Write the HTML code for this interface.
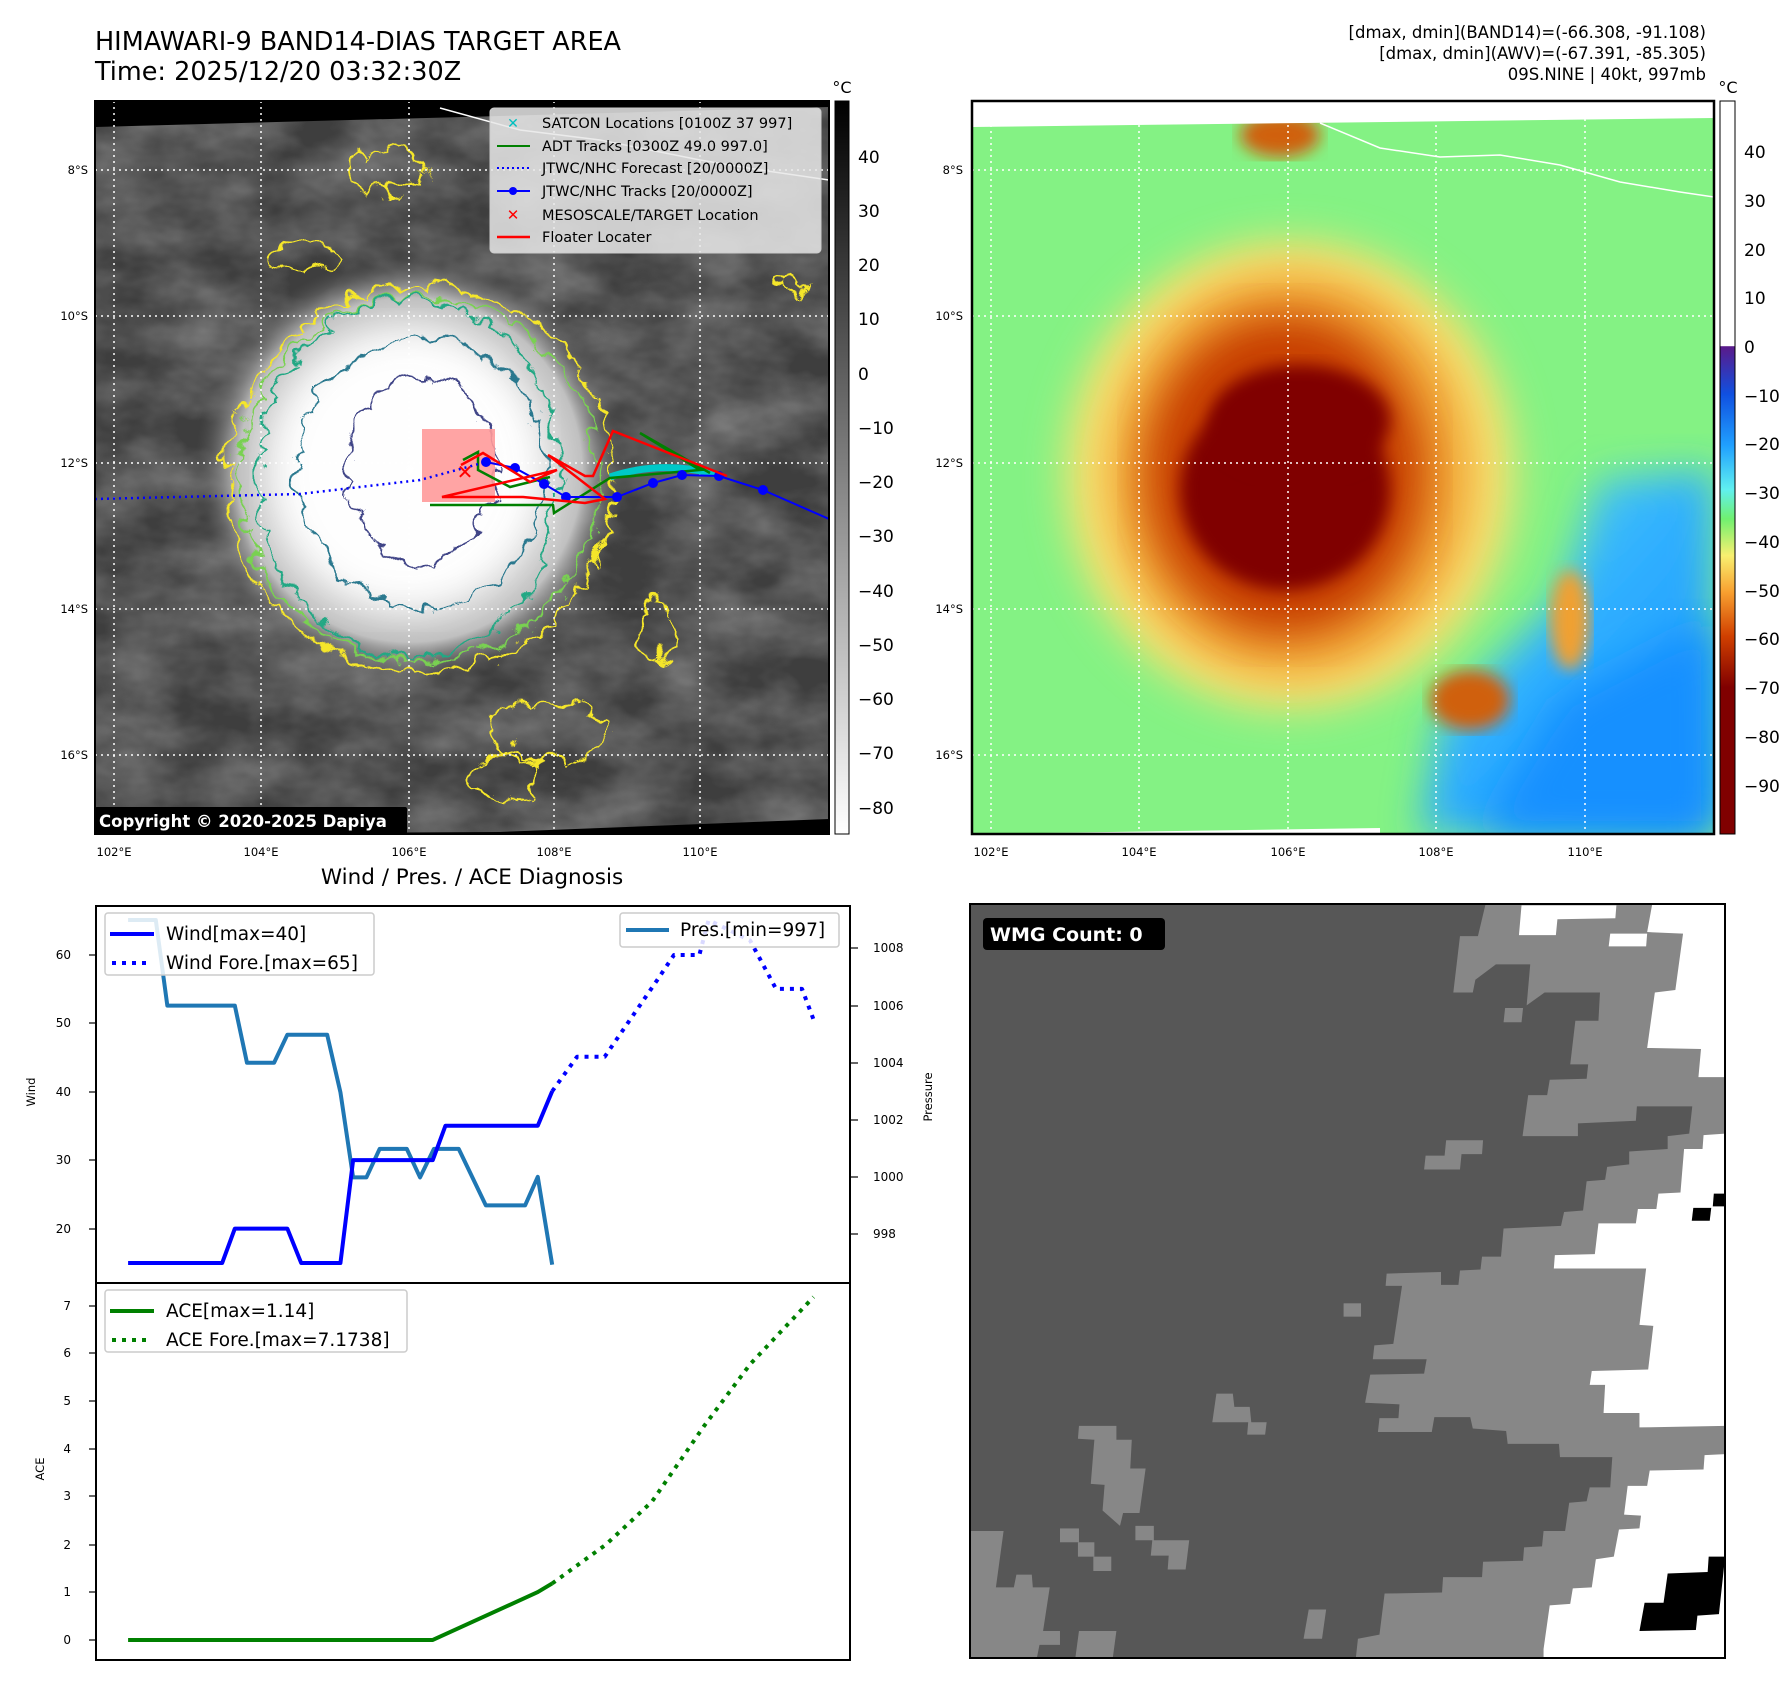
<!DOCTYPE html>
<html><head><meta charset="utf-8"><style>
html,body{margin:0;padding:0;background:#fff;}
svg{display:block;font-family:"DejaVu Sans","Liberation Sans",sans-serif;}
</style></head><body>
<svg width="1788" height="1690" viewBox="0 0 1788 1690" xmlns="http://www.w3.org/2000/svg">
<defs>
<filter id="noise" x="0" y="0" width="100%" height="100%">
<feTurbulence type="fractalNoise" baseFrequency="0.012 0.02" numOctaves="4" seed="3"/>
<feColorMatrix type="matrix" values="0 0 0 0 0.3  0 0 0 0 0.3  0 0 0 0 0.3  1.1 0 0 0 -0.3"/>
</filter>
<filter id="wob" x="-20%" y="-20%" width="140%" height="140%">
<feTurbulence type="turbulence" baseFrequency="0.03" numOctaves="2" seed="5" result="t"/>
<feDisplacementMap in="SourceGraphic" in2="t" scale="26" xChannelSelector="R" yChannelSelector="G"/>
</filter>
<filter id="blur8"><feGaussianBlur stdDeviation="8"/></filter>
<filter id="blur20"><feGaussianBlur stdDeviation="20"/></filter>
<radialGradient id="glow" cx="0.5" cy="0.5" r="0.5">
<stop offset="0" stop-color="#fff"/><stop offset="0.5" stop-color="#f4f4f4"/><stop offset="0.8" stop-color="#c0c0c0"/><stop offset="1" stop-color="#5a5a5a" stop-opacity="0"/>
</radialGradient>
<linearGradient id="cbL" x1="0" y1="0" x2="0" y2="1"><stop offset="0" stop-color="#000"/><stop offset="1" stop-color="#fff"/></linearGradient>
<linearGradient id="cbR" x1="0" y1="0" x2="0" y2="1">
<stop offset="0" stop-color="#fff"/><stop offset="0.334" stop-color="#fff"/>
<stop offset="0.335" stop-color="#5a1a8a"/>
<stop offset="0.40" stop-color="#1050e0"/>
<stop offset="0.47" stop-color="#20a0ff"/>
<stop offset="0.53" stop-color="#60f0f0"/>
<stop offset="0.57" stop-color="#70f070"/>
<stop offset="0.62" stop-color="#f8f070"/>
<stop offset="0.67" stop-color="#f8a030"/>
<stop offset="0.73" stop-color="#d04000"/>
<stop offset="0.80" stop-color="#800000"/>
<stop offset="1" stop-color="#800000"/>
</linearGradient>
<linearGradient id="seaR" x1="0" y1="0" x2="1" y2="1"><stop offset="0" stop-color="#70f0e0"/><stop offset="0.5" stop-color="#30b0ff"/><stop offset="1" stop-color="#1890ff"/></linearGradient>
<clipPath id="clipL"><rect x="95" y="101" width="734" height="733"/></clipPath>
<clipPath id="clipR"><rect x="972" y="101" width="742" height="733"/></clipPath>
</defs>

<text x="95" y="50" font-size="25.5">HIMAWARI-9 BAND14-DIAS TARGET AREA</text>
<text x="95" y="80" font-size="25.5">Time: 2025/12/20 03:32:30Z</text>
<text x="1706" y="38" font-size="16.5" text-anchor="end">[dmax, dmin](BAND14)=(-66.308, -91.108)</text>
<text x="1706" y="59" font-size="16.5" text-anchor="end">[dmax, dmin](AWV)=(-67.391, -85.305)</text>
<text x="1706" y="80" font-size="16.5" text-anchor="end">09S.NINE | 40kt, 997mb</text>

<!-- LEFT MAP -->
<g clip-path="url(#clipL)">
<rect x="95" y="101" width="734" height="733" fill="#3e3e3e"/>
<rect x="95" y="101" width="734" height="733" filter="url(#noise)" fill="#fff"/>
<ellipse cx="410" cy="470" rx="215" ry="215" fill="url(#glow)"/>
<ellipse cx="405" cy="470" rx="130" ry="135" fill="#fff" filter="url(#blur20)" opacity="0.9"/>
<g fill="none" stroke-width="2.2" filter="url(#wob)">
<ellipse cx="414" cy="472" rx="193" ry="193" stroke="#f5e629"/>
<ellipse cx="412" cy="472" rx="180" ry="182" stroke="#79d151"/>
<ellipse cx="403" cy="471" rx="151" ry="179" stroke="#22a884"/>
<ellipse cx="415" cy="466" rx="125" ry="134" stroke="#2a788e"/>
<ellipse cx="416" cy="463" rx="75" ry="93" stroke="#414487"/>
<ellipse cx="380" cy="165" rx="40" ry="22" stroke="#f5e629"/>
<ellipse cx="300" cy="250" rx="40" ry="15" stroke="#f5e629"/>
<ellipse cx="540" cy="725" rx="60" ry="30" stroke="#f5e629"/>
<ellipse cx="500" cy="770" rx="35" ry="25" stroke="#f5e629"/>
<ellipse cx="650" cy="625" rx="18" ry="30" stroke="#f5e629"/>
<ellipse cx="785" cy="280" rx="15" ry="9" stroke="#f5e629"/>
</g>
<polygon points="95,101 829,101 829,107 95,127" fill="#000"/>
<polygon points="95,834 829,834 829,819 500,832 95,834" fill="#000"/>
<path d="M440,108 L520,130 L600,140 L700,160 L760,170 L829,180" stroke="#fff" stroke-width="1.5" fill="none"/>
<g stroke="#fff" stroke-width="1.5" stroke-dasharray="2,4">
<line x1="114" y1="101" x2="114" y2="834"/><line x1="261" y1="101" x2="261" y2="834"/><line x1="409" y1="101" x2="409" y2="834"/><line x1="554" y1="101" x2="554" y2="834"/><line x1="700" y1="101" x2="700" y2="834"/>
<line x1="95" y1="170" x2="829" y2="170"/><line x1="95" y1="316" x2="829" y2="316"/><line x1="95" y1="463" x2="829" y2="463"/><line x1="95" y1="609" x2="829" y2="609"/><line x1="95" y1="755" x2="829" y2="755"/>
</g>
<rect x="422" y="429" width="73" height="73" fill="#ff9a9a" opacity="0.9"/>
<path d="M610,477 Q660,460 715,474" stroke="#00c8c8" stroke-width="7" fill="none"/>
<path d="M430,505 L553,505 L554,513 L610,478 L700,470 L640,433 L710,473" stroke="#008000" stroke-width="2.5" fill="none"/>
<path d="M463,460 L478,452 L478,470 L510,487 L550,477" stroke="#008000" stroke-width="2.5" fill="none"/>
<path d="M95,499 L300,494 L420,480 L486,462" stroke="#0000ff" stroke-width="2.5" stroke-dasharray="2,4" fill="none"/>
<g stroke="#0000ff" stroke-width="2" fill="#0000ff">
<polyline points="486,462 515,468 544,484 566,497 617,497 653,483 682,475 719,476 763,490 829,519" fill="none"/>
<circle cx="486" cy="462" r="4"/><circle cx="515" cy="468" r="4"/><circle cx="544" cy="484" r="4"/><circle cx="566" cy="497" r="4"/><circle cx="617" cy="497" r="4"/><circle cx="653" cy="483" r="4"/><circle cx="682" cy="475" r="4"/><circle cx="719" cy="476" r="4"/><circle cx="763" cy="490" r="4"/>
</g>
<path d="M461,465 L483,453 L530,482 L557,470 L442,497 L523,497 L585,503 L605,499 L548,455 L585,476 L593,476 L613,431 L727,476" stroke="#ff0000" stroke-width="2.5" fill="none"/>
<text x="465" y="479" font-size="20" fill="#ff0000" text-anchor="middle" font-weight="bold">✕</text>
</g>
<rect x="95" y="101" width="734" height="733" fill="none" stroke="#000" stroke-width="2"/>
<rect x="95" y="807" width="312" height="27" fill="#000" rx="2"/>
<text x="99" y="827" font-size="16.5" font-weight="bold" fill="#fff">Copyright © 2020-2025 Dapiya</text>
<rect x="490" y="108" width="331" height="145" rx="4" fill="#e8e8e8" fill-opacity="0.85" stroke="#ccc"/>
<g font-size="14.5">
<text x="513" y="128" fill="#00c0c0" font-weight="bold" font-size="14" text-anchor="middle">✕</text>
<text x="542" y="128">SATCON Locations [0100Z 37 997]</text>
<line x1="497" y1="146" x2="530" y2="146" stroke="#008000" stroke-width="2"/><text x="542" y="151">ADT Tracks [0300Z 49.0 997.0]</text>
<line x1="497" y1="168" x2="530" y2="168" stroke="#0000ff" stroke-width="2" stroke-dasharray="2,3"/><text x="542" y="173">JTWC/NHC Forecast [20/0000Z]</text>
<line x1="497" y1="191" x2="530" y2="191" stroke="#0000ff" stroke-width="2"/><circle cx="513" cy="191" r="4" fill="#0000ff"/><text x="542" y="196">JTWC/NHC Tracks [20/0000Z]</text>
<text x="513" y="220" fill="#ff0000" font-weight="bold" font-size="15" text-anchor="middle">✕</text><text x="542" y="220">MESOSCALE/TARGET Location</text>
<line x1="497" y1="237" x2="530" y2="237" stroke="#ff0000" stroke-width="2.5"/><text x="542" y="242">Floater Locater</text>
</g>
<g font-size="11.5" text-anchor="end">
<text x="88" y="174">8°S</text><text x="88" y="320">10°S</text><text x="88" y="467">12°S</text><text x="88" y="613">14°S</text><text x="88" y="759">16°S</text>
</g>
<g font-size="11.5" text-anchor="middle">
<text x="114" y="856">102°E</text><text x="261" y="856">104°E</text><text x="409" y="856">106°E</text><text x="554" y="856">108°E</text><text x="700" y="856">110°E</text>
</g>
<rect x="835" y="101" width="14" height="733" fill="url(#cbL)" stroke="#000" stroke-width="1"/>
<text x="842" y="93" font-size="16" text-anchor="middle">°C</text>
<g font-size="17">
<text x="858" y="163">40</text><text x="858" y="217">30</text><text x="858" y="271">20</text><text x="858" y="325">10</text><text x="858" y="380">0</text>
<text x="858" y="434">−10</text><text x="858" y="488">−20</text><text x="858" y="542">−30</text><text x="858" y="597">−40</text><text x="858" y="651">−50</text><text x="858" y="705">−60</text><text x="858" y="759">−70</text><text x="858" y="814">−80</text>
</g>

<!-- RIGHT MAP -->
<g clip-path="url(#clipR)">
<rect x="972" y="101" width="742" height="733" fill="#84f284"/>
<polygon points="1380,834 1714,834 1714,470 1600,480 1560,600 1440,720 1420,834" fill="url(#seaR)" filter="url(#blur20)"/>
<polygon points="1480,834 1714,834 1714,620 1560,700" fill="#1890ff" filter="url(#blur20)"/>
<ellipse cx="1290" cy="475" rx="225" ry="235" fill="#f8e070" filter="url(#blur20)"/>
<ellipse cx="1290" cy="475" rx="180" ry="200" fill="#f0a030" filter="url(#blur20)"/>
<ellipse cx="1285" cy="475" rx="140" ry="160" fill="#c84000" filter="url(#blur20)"/>
<ellipse cx="1285" cy="490" rx="105" ry="100" fill="#800000" filter="url(#blur8)"/>
<ellipse cx="1300" cy="420" rx="90" ry="55" fill="#800000" filter="url(#blur8)"/>
<ellipse cx="1280" cy="135" rx="40" ry="22" fill="#d06010" filter="url(#blur8)"/>
<ellipse cx="1470" cy="700" rx="40" ry="30" fill="#d06010" filter="url(#blur8)"/>
<ellipse cx="1570" cy="620" rx="20" ry="50" fill="#f0a030" filter="url(#blur8)"/>
<polygon points="972,101 1714,101 1714,118 972,127" fill="#fff"/>
<polygon points="972,834 1380,834 1380,828 972,834" fill="#fff"/>
<path d="M1320,123 L1380,148 L1440,157 L1500,155 L1560,165 L1620,182 L1680,192 L1714,197" stroke="#fff" stroke-width="1.5" fill="none"/>
<g stroke="#fff" stroke-width="1.5" stroke-dasharray="2,4">
<line x1="991" y1="101" x2="991" y2="834"/><line x1="1139" y1="101" x2="1139" y2="834"/><line x1="1288" y1="101" x2="1288" y2="834"/><line x1="1436" y1="101" x2="1436" y2="834"/><line x1="1585" y1="101" x2="1585" y2="834"/>
<line x1="972" y1="170" x2="1714" y2="170"/><line x1="972" y1="316" x2="1714" y2="316"/><line x1="972" y1="463" x2="1714" y2="463"/><line x1="972" y1="609" x2="1714" y2="609"/><line x1="972" y1="755" x2="1714" y2="755"/>
</g>
</g>
<rect x="972" y="101" width="742" height="733" fill="none" stroke="#000" stroke-width="2.5"/>
<g font-size="11.5" text-anchor="end">
<text x="963" y="174">8°S</text><text x="963" y="320">10°S</text><text x="963" y="467">12°S</text><text x="963" y="613">14°S</text><text x="963" y="759">16°S</text>
</g>
<g font-size="11.5" text-anchor="middle">
<text x="991" y="856">102°E</text><text x="1139" y="856">104°E</text><text x="1288" y="856">106°E</text><text x="1436" y="856">108°E</text><text x="1585" y="856">110°E</text>
</g>
<rect x="1720" y="101" width="15" height="733" fill="url(#cbR)" stroke="#000" stroke-width="1"/>
<text x="1728" y="93" font-size="16" text-anchor="middle">°C</text>
<g font-size="17">
<text x="1744" y="158">40</text><text x="1744" y="207">30</text><text x="1744" y="256">20</text><text x="1744" y="304">10</text><text x="1744" y="353">0</text>
<text x="1744" y="402">−10</text><text x="1744" y="450">−20</text><text x="1744" y="499">−30</text><text x="1744" y="548">−40</text><text x="1744" y="597">−50</text><text x="1744" y="645">−60</text><text x="1744" y="694">−70</text><text x="1744" y="743">−80</text><text x="1744" y="792">−90</text>
</g>

<!-- BOTTOM LEFT CHART -->
<text x="472" y="884" font-size="21.5" text-anchor="middle">Wind / Pres. / ACE Diagnosis</text>
<g transform="translate(0,850) scale(0.577,0.5385)" fill="none" stroke-width="4" stroke-linejoin="round">
<polyline vector-effect="non-scaling-stroke" points="222,130 270,130 290,289 407,289 428,395 475,395 498,343 567,343 590,450 612,608 635,608 658,555 705,555 728,608 752,555 795,555 842,660 910,660 932,607 957,770" stroke="#1f77b4"/>
<polyline vector-effect="non-scaling-stroke" points="222,767 385,767 407,703 498,703 522,767 590,767 612,576 750,576 772,512 932,512 957,448" stroke="#0000ff"/>
<polyline vector-effect="non-scaling-stroke" points="957,448 1000,384 1048,384 1140,240 1168,195 1212,195 1228,130 1300,168 1345,258 1390,258 1410,315" stroke="#0000ff" stroke-dasharray="4,6"/>
<polyline vector-effect="non-scaling-stroke" points="222,1467 750,1467 932,1378 957,1362" stroke="#008000"/>
<polyline vector-effect="non-scaling-stroke" points="957,1362 1050,1290 1130,1210 1220,1070 1300,955 1410,830" stroke="#008000" stroke-dasharray="4,6"/>
</g>
<rect x="96" y="906" width="754" height="377" fill="none" stroke="#000" stroke-width="2"/>
<rect x="96" y="1283" width="754" height="377" fill="none" stroke="#000" stroke-width="2"/>
<g stroke="#000" stroke-width="1.2">
<line x1="89" y1="955" x2="96" y2="955"/><line x1="89" y1="1023" x2="96" y2="1023"/><line x1="89" y1="1092" x2="96" y2="1092"/><line x1="89" y1="1160" x2="96" y2="1160"/><line x1="89" y1="1229" x2="96" y2="1229"/>
<line x1="850" y1="948" x2="858" y2="948"/><line x1="850" y1="1006" x2="858" y2="1006"/><line x1="850" y1="1063" x2="858" y2="1063"/><line x1="850" y1="1120" x2="858" y2="1120"/><line x1="850" y1="1177" x2="858" y2="1177"/><line x1="850" y1="1234" x2="858" y2="1234"/>
<line x1="89" y1="1306" x2="96" y2="1306"/><line x1="89" y1="1353" x2="96" y2="1353"/><line x1="89" y1="1401" x2="96" y2="1401"/><line x1="89" y1="1449" x2="96" y2="1449"/><line x1="89" y1="1496" x2="96" y2="1496"/><line x1="89" y1="1545" x2="96" y2="1545"/><line x1="89" y1="1592" x2="96" y2="1592"/><line x1="89" y1="1640" x2="96" y2="1640"/>
</g>
<g font-size="12" text-anchor="end">
<text x="71" y="959">60</text><text x="71" y="1027">50</text><text x="71" y="1096">40</text><text x="71" y="1164">30</text><text x="71" y="1233">20</text>
<text x="71" y="1310">7</text><text x="71" y="1357">6</text><text x="71" y="1405">5</text><text x="71" y="1453">4</text><text x="71" y="1500">3</text><text x="71" y="1549">2</text><text x="71" y="1596">1</text><text x="71" y="1644">0</text>
</g>
<g font-size="12">
<text x="873" y="952">1008</text><text x="873" y="1010">1006</text><text x="873" y="1067">1004</text><text x="873" y="1124">1002</text><text x="873" y="1181">1000</text><text x="873" y="1238">998</text>
</g>
<text transform="translate(35,1092) rotate(-90)" font-size="11.5" text-anchor="middle">Wind</text>
<text transform="translate(932,1097) rotate(-90)" font-size="11.5" text-anchor="middle">Pressure</text>
<text transform="translate(44,1469) rotate(-90)" font-size="11.5" text-anchor="middle">ACE</text>
<rect x="105" y="913" width="269" height="62" rx="3" fill="#fff" fill-opacity="0.85" stroke="#ccc" stroke-width="1.5"/>
<line x1="110" y1="934" x2="154" y2="934" stroke="#0000ff" stroke-width="4"/>
<line x1="112" y1="963" x2="150" y2="963" stroke="#0000ff" stroke-width="4" stroke-dasharray="4,6"/>
<text x="166" y="940" font-size="18.5">Wind[max=40]</text><text x="166" y="969" font-size="18.5">Wind Fore.[max=65]</text>
<rect x="620" y="913" width="219" height="34" rx="3" fill="#fff" fill-opacity="0.85" stroke="#ccc" stroke-width="1.5"/>
<line x1="626" y1="930" x2="669" y2="930" stroke="#1f77b4" stroke-width="4"/>
<text x="680" y="936" font-size="18.5">Pres.[min=997]</text>
<rect x="105" y="1290" width="302" height="62" rx="3" fill="#fff" fill-opacity="0.85" stroke="#ccc" stroke-width="1.5"/>
<line x1="110" y1="1311" x2="154" y2="1311" stroke="#008000" stroke-width="4"/>
<line x1="112" y1="1340" x2="150" y2="1340" stroke="#008000" stroke-width="4" stroke-dasharray="4,6"/>
<text x="166" y="1317" font-size="18.5">ACE[max=1.14]</text><text x="166" y="1346" font-size="18.5">ACE Fore.[max=7.1738]</text>

<!-- WMG PANEL -->
<g transform="translate(960,890) scale(0.5128)">
<rect x="20" y="27" width="1472" height="1470" fill="#575757"/>
<g fill="#878787">
<polygon points="1025,27 1010,90 975,90 962,200 1000,200 1005,175 1045,145 1112,145 1105,225 1140,200 1248,200 1245,255 1200,255 1190,340 1225,340 1222,368 1150,370 1145,400 1108,400 1097,480 1205,480 1205,455 1318,450 1320,422 1428,422 1422,475 1380,480 1380,505 1305,510 1305,535 1262,540 1258,565 1222,568 1215,625 1178,628 1172,655 1060,660 1055,715 1018,715 1015,740 975,742 972,770 938,770 938,745 832,748 830,772 862,772 845,885 808,888 805,915 910,915 905,943 800,945 790,1000 857,1003 855,1030 818,1030 815,1057 920,1057 925,1028 995,1028 1000,1050 1065,1055 1068,1080 1168,1080 1170,1106 1272,1106 1268,1165 1228,1165 1222,1192 1188,1195 1180,1250 1138,1250 1135,1280 1100,1282 1098,1308 1020,1310 1018,1340 942,1340 940,1370 828,1372 818,1452 776,1460 772,1497 1492,1497 1492,27"/>
<polygon points="20,1250 85,1250 70,1360 105,1360 110,1335 140,1335 142,1360 175,1360 162,1445 195,1445 195,1472 155,1472 150,1497 20,1497"/>
<polygon points="232,1445 305,1445 298,1497 225,1497"/>
<polygon points="232,1045 305,1045 305,1072 335,1072 332,1128 362,1128 350,1215 318,1215 312,1240 278,1210 282,1160 255,1158 262,1072 230,1070"/>
<polygon points="342,1240 378,1240 378,1268 447,1268 440,1325 405,1325 407,1298 372,1298 375,1268 342,1268"/>
<rect x="195" y="1245" width="37" height="27"/><rect x="230" y="1272" width="32" height="28"/><rect x="260" y="1300" width="35" height="28"/>
<polygon points="500,982 532,982 535,1008 565,1008 568,1038 598,1038 595,1062 560,1062 562,1038 492,1038"/>
<rect x="748" y="806" width="34" height="26"/>
<polygon points="680,1403 714,1403 706,1460 670,1460"/>
<polygon points="948,488 1020,488 1018,515 978,515 975,545 905,545 908,518 945,518"/>
<polygon points="1063,230 1098,230 1095,258 1060,258"/>
</g>
<g fill="#fff">
<polygon points="1095,30 1280,30 1278,55 1165,57 1162,88 1090,88"/>
<polygon points="1268,85 1340,85 1338,110 1265,110"/>
<polygon points="1350,27 1492,27 1492,365 1440,365 1445,310 1340,308 1355,200 1395,195 1410,85 1340,82"/>
<polygon points="1492,475 1450,478 1448,505 1412,505 1405,590 1362,592 1358,622 1322,622 1318,650 1245,650 1238,710 1160,712 1158,738 1338,738 1325,848 1352,850 1342,935 1232,938 1228,965 1258,965 1255,1020 1325,1020 1325,1048 1492,1045"/>
<polygon points="1492,1100 1452,1102 1450,1130 1345,1132 1340,1162 1302,1162 1295,1218 1328,1220 1325,1245 1285,1247 1275,1300 1240,1305 1232,1360 1195,1362 1190,1392 1150,1395 1138,1480 1138,1497 1492,1497"/>
</g>
<g fill="#000">
<polygon points="1430,620 1465,620 1462,645 1427,645"/>
<polygon points="1470,592 1492,592 1490,617 1468,617"/>
<polygon points="1380,1333 1458,1330 1460,1300 1492,1300 1480,1412 1438,1415 1435,1443 1325,1445 1335,1390 1372,1390"/>
</g>
</g>
<rect x="970" y="904" width="755" height="754" fill="none" stroke="#000" stroke-width="2"/>
<rect x="983" y="918" width="182" height="32" rx="4" fill="#000"/>
<text x="990" y="941" font-size="19" font-weight="bold" fill="#fff">WMG Count: 0</text>
</svg>
</body></html>
